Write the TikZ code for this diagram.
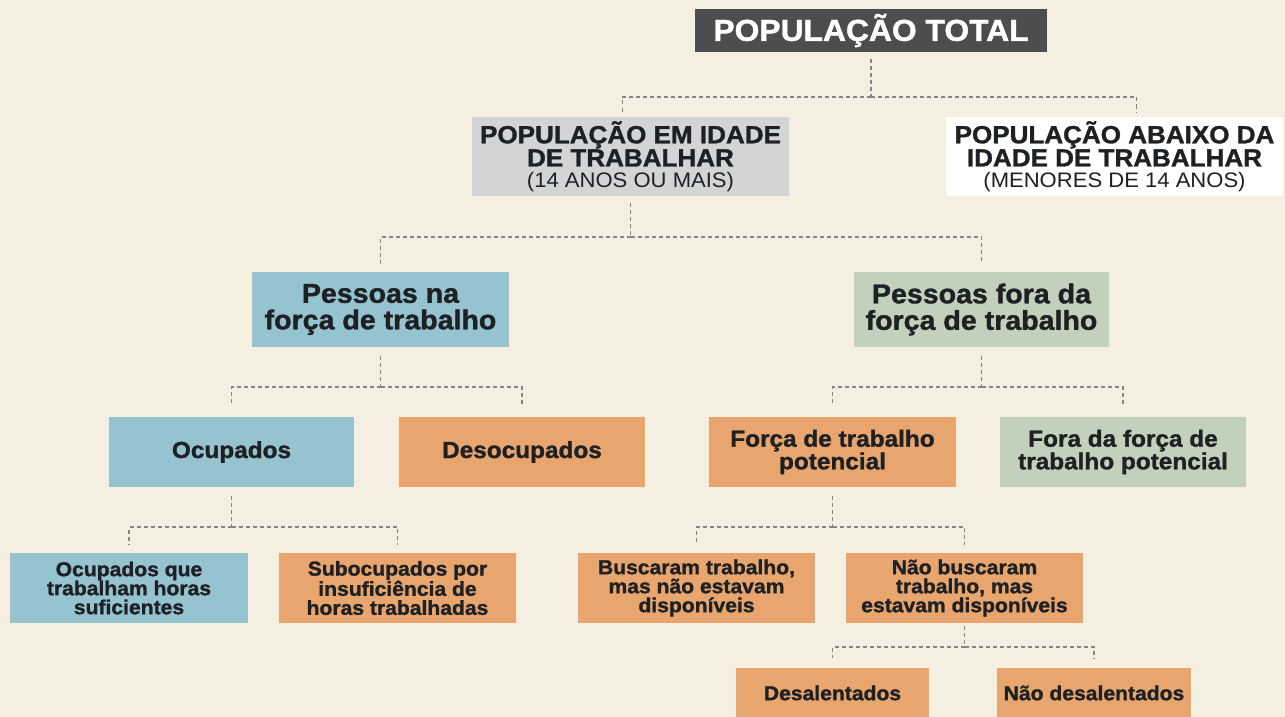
\documentclass[tikz,border=0pt]{standalone}
\usepackage{fontspec}
\setmainfont{Liberation Sans}[FakeStretch=1.05, BoldFeatures={FakeBold=1.3}]
\usetikzlibrary{calc}
\definecolor{bg}{HTML}{F5EFE1}
\definecolor{darkbox}{HTML}{4C4D4F}
\definecolor{graybox}{HTML}{D3D4D6}
\definecolor{bluebox}{HTML}{95C3CF}
\definecolor{greenbox}{HTML}{C1D1BC}
\definecolor{orangebox}{HTML}{E8A56D}
\definecolor{txt}{HTML}{1E2124}
\definecolor{lineclr}{HTML}{858585}
\tikzset{
  box/.style={rectangle, inner sep=0pt, align=center, text=txt},
  bigtxt/.style={font=\fontsize{27.2}{26.5}\selectfont\bfseries},
  midtxt/.style={font=\fontsize{23.2}{21}\selectfont\bfseries},
  smalltxt/.style={font=\fontsize{20.1}{19}\selectfont\bfseries},
  headtxt/.style={font=\fontsize{24.8}{22}\selectfont\bfseries},
  subtxt/.style={font=\fontsize{21}{20}\selectfont\mdseries},
  conn/.style={draw=lineclr, line width=1.8pt, dash pattern=on 4pt off 3pt},
}
\begin{document}
\begin{tikzpicture}[x=1pt,y=-1pt]
\fill[bg] (0,0) rectangle (1285,717);
\useasboundingbox (0,0) rectangle (1285,717);

% top
\node[box, fill=darkbox, text=white, minimum width=352, minimum height=43,
      font=\fontsize{30.3}{28}\selectfont\bfseries] (tot) at (871,30.5) {POPULAÇÃO TOTAL};
\node[box, fill=graybox, minimum width=317, minimum height=79, headtxt] (pit) at (630.5,156.5)
  {POPULAÇÃO EM IDADE\\DE TRABALHAR\\[-1pt]{\fontsize{21}{20}\selectfont\mdseries (14 ANOS OU MAIS)}};
\node[box, fill=white, minimum width=337, minimum height=79, headtxt] (pab) at (1114.5,156.5)
  {POPULAÇÃO ABAIXO DA\\IDADE DE TRABALHAR\\[-1pt]{\fontsize{21}{20}\selectfont\mdseries (MENORES DE 14 ANOS)}};

% level 2
\node[box, fill=bluebox, minimum width=257, minimum height=75, bigtxt] (pft) at (380.5,309.5)
  {Pessoas na\\força de trabalho};
\node[box, fill=greenbox, minimum width=255, minimum height=75, bigtxt] (pff) at (981.5,309.5)
  {Pessoas fora da\\força de trabalho};

% level 3
\node[box, fill=bluebox, minimum width=245, minimum height=70, midtxt] (ocu) at (231.5,452) {Ocupados};
\node[box, fill=orangebox, minimum width=246, minimum height=70, midtxt] (des) at (522,452) {Desocupados};
\node[box, fill=orangebox, minimum width=247, minimum height=70, midtxt] (ftp) at (832.5,452)
  {Força de trabalho\\potencial};
\node[box, fill=greenbox, minimum width=246, minimum height=70, midtxt] (fft) at (1123,452)
  {Fora da força de\\trabalho potencial};

% level 4
\node[box, fill=bluebox, minimum width=238, minimum height=70, smalltxt] (ohs) at (129,588)
  {Ocupados que\\trabalham horas\\suficientes};
\node[box, fill=orangebox, minimum width=237, minimum height=70, smalltxt] (sub) at (397.5,588)
  {Subocupados por\\insuficiência de\\horas trabalhadas};
\node[box, fill=orangebox, minimum width=237, minimum height=70, smalltxt] (bus) at (696.5,588)
  {Buscaram trabalho,\\mas não estavam\\disponíveis};
\node[box, fill=orangebox, minimum width=237, minimum height=70, smalltxt] (nbu) at (964.5,588)
  {Não buscaram\\trabalho, mas\\estavam disponíveis};

% level 5
\node[box, fill=orangebox, minimum width=193, minimum height=50, smalltxt] (dsl) at (832.5,693) {Desalentados};
\node[box, fill=orangebox, minimum width=194, minimum height=50, smalltxt] (nds) at (1094,693) {Não desalentados};

% junction heights
\coordinate (y0) at (0,97);
\coordinate (y1) at (0,237);
\coordinate (y2) at (0,387);
\coordinate (y3) at (0,527);
\coordinate (y4) at (0,647);

% connectors
\draw[conn, shorten <=7pt] (tot.south) -- (tot.south |- y0);
\draw[conn, shorten >=4pt] (tot.south |- y0) -| ([xshift=-8pt]pit.north);
\draw[conn, shorten >=4pt] (tot.south |- y0) -| ([xshift=22pt]pab.north);

\draw[conn, shorten <=7pt] (pit.south) -- (pit.south |- y1);
\draw[conn, shorten >=8pt] (pit.south |- y1) -| (pft.north);
\draw[conn, shorten >=8pt] (pit.south |- y1) -| (pff.north);

\draw[conn, shorten <=9pt] (pft.south) -- (pft.south |- y2);
\draw[conn, shorten >=11pt] (pft.south |- y2) -| (ocu.north);
\draw[conn, shorten >=11pt] (pft.south |- y2) -| (des.north);

\draw[conn, shorten <=9pt] (pff.south) -- (pff.south |- y2);
\draw[conn, shorten >=11pt] (pff.south |- y2) -| (ftp.north);
\draw[conn, shorten >=11pt] (pff.south |- y2) -| (fft.north);

\draw[conn, shorten <=9pt] (ocu.south) -- (ocu.south |- y3);
\draw[conn, shorten >=8pt] (ocu.south |- y3) -| (ohs.north);
\draw[conn, shorten >=8pt] (ocu.south |- y3) -| (sub.north);

\draw[conn, shorten <=9pt] (ftp.south) -- (ftp.south |- y3);
\draw[conn, shorten >=8pt] (ftp.south |- y3) -| (bus.north);
\draw[conn, shorten >=8pt] (ftp.south |- y3) -| (nbu.north);

\draw[conn, shorten <=3pt] (nbu.south) -- (nbu.south |- y4);
\draw[conn, shorten >=10pt] (nbu.south |- y4) -| (dsl.north);
\draw[conn, shorten >=10pt] (nbu.south |- y4) -| (nds.north);
\end{tikzpicture}
\end{document}
